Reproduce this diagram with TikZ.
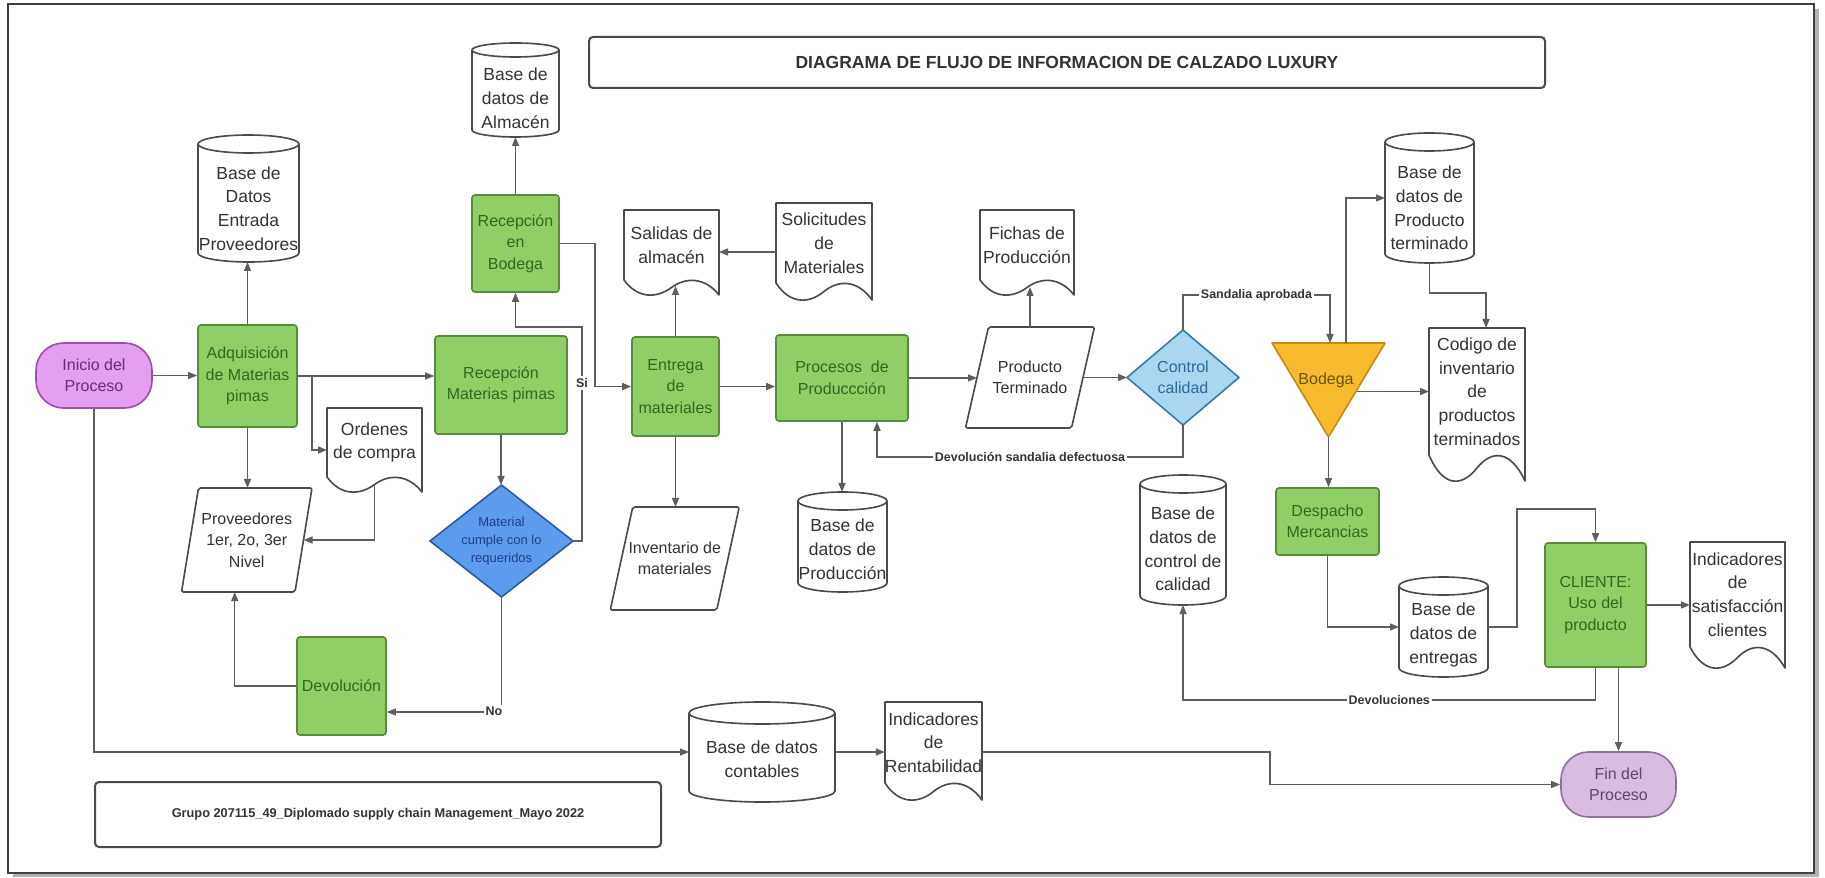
\documentclass[tikz,border=0pt]{standalone}
\usepackage{fontspec}
\setmainfont{Liberation Sans}
\usetikzlibrary{arrows.meta,calc}

\definecolor{ln}{HTML}{5E5E5E}
\definecolor{bd}{HTML}{4A4A4A}
\definecolor{txt}{HTML}{333333}
\definecolor{grf}{HTML}{90CF66}
\definecolor{grb}{HTML}{5A8A3C}
\definecolor{grt}{HTML}{2E6B1F}
\definecolor{inif}{HTML}{E3A0F0}
\definecolor{inib}{HTML}{9A4FAE}
\definecolor{init}{HTML}{6B2B7D}
\definecolor{finf}{HTML}{D9BDE0}
\definecolor{finb}{HTML}{8E7396}
\definecolor{fint}{HTML}{5E4766}
\definecolor{matf}{HTML}{5D9CEC}
\definecolor{matb}{HTML}{2C5C9C}
\definecolor{matt}{HTML}{1F3F88}
\definecolor{ccf}{HTML}{A9D7F2}
\definecolor{ccb}{HTML}{3D7AA8}
\definecolor{cct}{HTML}{2E6A9C}
\definecolor{bodf}{HTML}{F8BA2E}
\definecolor{bodb}{HTML}{C68C12}
\definecolor{bodtx}{HTML}{6B5200}

\tikzset{
 sz/.style 2 args={minimum width={(#1)*0.4pt}, minimum height={(#2)*0.4pt}},
 ghost/.style={rectangle, draw=none, inner sep=0pt, outer sep=0pt},
 outl/.style={draw=bd, line width=0.65pt, line join=round},
 conn/.style={draw=ln, line width=0.55pt, -{Triangle[length=3.6pt,width=2.8pt]}},
 tbig/.style={font=\fontsize{7}{9.5}\selectfont, text=txt, align=center},
 tsm/.style={font=\fontsize{6.4}{8.6}\selectfont, align=center},
 procbox/.style={rectangle, rounded corners=1.2pt, draw=grb, fill=grf, line width=0.65pt, text=grt, tsm, inner sep=0pt},
 term/.style={rectangle, rounded corners=11pt, line width=0.65pt, tsm, inner sep=0pt},
 lbl/.style={font=\bfseries\fontsize{5}{6}\selectfont, text=txt, fill=white, inner sep=0.8pt},
}

% cylinder: name, cx, cy, w, h, ry, text offset, text
\newcommand\cylshape[8]{%
 \pgfmathsetmacro\cxl{#2-#4/2}\pgfmathsetmacro\cxr{#2+#4/2}%
 \pgfmathsetmacro\cyt{#3-#5/2+#6}\pgfmathsetmacro\cyb{#3+#5/2-#6}%
 \pgfmathsetmacro\crx{#4/2}%
 \path[outl,fill=white] (\cxl,\cyt) -- (\cxl,\cyb) arc[start angle=180,end angle=0,x radius=\crx,y radius=#6] -- (\cxr,\cyt) arc[start angle=0,end angle=-180,x radius=\crx,y radius=#6] -- cycle;
 \path[outl] (\cxl,\cyt) arc[start angle=180,end angle=0,x radius=\crx,y radius=#6];
 \node[ghost,sz={#4}{#5}] (#1) at (#2,#3) {};
 \node[tbig] (#1t) at (#2,{#3+#7}) {#8};
}

% document: name, x0, ytop, w, h, d, text
\newcommand\docshape[7]{%
 \pgfmathsetmacro\dxa{#2}\pgfmathsetmacro\dxb{#2+#4}%
 \pgfmathsetmacro\dyt{#3}\pgfmathsetmacro\dyb{#3+#5-#6}%
 \path[outl,fill=white] (\dxa,\dyt) -- (\dxb,\dyt) -- (\dxb,{\dyb+#6})
   .. controls ({#2+0.85*#4},{\dyb-0.2*#6}) and ({#2+0.65*#4},{\dyb-0.2*#6}) .. ({#2+0.5*#4},{\dyb+0.5*#6})
   .. controls ({#2+0.35*#4},{\dyb+1.2*#6}) and ({#2+0.15*#4},{\dyb+1.3*#6}) .. (\dxa,\dyb) -- cycle;
 \node[ghost,tbig,sz={#4}{#5-#6}] (#1) at ({#2+#4/2},{#3+(#5-#6)/2}) {#7};
}

% parallelogram: name, cx, cy, w, h, slant, text
\newcommand\parashape[7]{%
 \path[outl,fill=white,rounded corners=0.8pt] ({#2-#4/2+#6/2},{#3-#5/2}) -- ({#2+#4/2+#6/2},{#3-#5/2}) -- ({#2+#4/2-#6/2},{#3+#5/2}) -- ({#2-#4/2-#6/2},{#3+#5/2}) -- cycle;
 \node[ghost,tsm,text=txt,sz={#4}{#5}] (#1) at (#2,#3) {#7};
}

\begin{document}
\begin{tikzpicture}[x=0.4pt,y=-0.4pt]
\useasboundingbox (0,0) rectangle (1825,878);
% frame
\fill[black!30] (13,9) rectangle (1819,877);
\draw[draw=black!75, line width=0.6pt, fill=white] (8,4) rectangle (1814,873);

% title and footer
\node[rectangle, rounded corners=1.6pt, draw=bd, line width=0.8pt, sz={956}{51}, font=\bfseries\fontsize{7}{8}\selectfont, text=txt] (title) at (1067,62.5) {DIAGRAMA DE FLUJO DE INFORMACION DE CALZADO LUXURY};
\node[rectangle, rounded corners=1.6pt, draw=bd, line width=0.8pt, sz={566}{65}, font=\bfseries\fontsize{5.1}{6}\selectfont, text=txt] (foot) at (378,814.5) {Grupo 207115\_49\_Diplomado supply chain Management\_Mayo 2022};

% terminals
\node[term, sz={116}{65}, fill=inif, draw=inib, text=init] (ini) at (94,375.5) {Inicio del\\Proceso};
\node[term, sz={115}{65}, fill=finf, draw=finb, text=fint] (fin) at (1618.5,784.5) {Fin del\\Proceso};

% process boxes
\node[procbox, sz={99}{102}] (adq) at (247.5,376) {Adquisición\\de Materias\\pimas};
\node[procbox, sz={87}{97}] (recb) at (515.5,243.5) {Recepción\\en\\Bodega};
\node[procbox, sz={132}{98}] (recm) at (501,385) {Recepción\\Materias pimas};
\node[procbox, sz={89}{98}] (dev) at (341.5,686) {Devolución};
\node[procbox, sz={87}{99}] (ent) at (675.5,386.5) {Entrega\\de\\materiales};
\node[procbox, sz={132}{86}] (proc) at (842,378) {Procesos~ de\\Produccción};
\node[procbox, sz={103}{67}] (desp) at (1327.5,521.5) {Despacho\\Mercancias};
\node[procbox, sz={101}{124}] (cli) at (1595.5,605) {CLIENTE:\\Uso del\\producto};

% databases
\cylshape{dbent}{248.5}{198.5}{101}{127}{9}{10}{Base de\\Datos\\Entrada\\Proveedores}
\cylshape{dbalm}{515.5}{90}{87}{94}{7}{8}{Base de\\datos de\\Almacén}
\cylshape{dbprod}{842.5}{542}{89}{100}{9}{7}{Base de\\datos de\\Producción}
\cylshape{dbcc}{1183}{540}{86}{130}{9}{9}{Base de\\datos de\\control de\\calidad}
\cylshape{dbpt}{1429.5}{198}{89}{130}{9}{10}{Base de\\datos de\\Producto\\terminado}
\cylshape{dbentr}{1443.5}{627}{89}{100}{9}{8}{Base de\\datos de\\entregas}
\cylshape{dbcont}{762}{752}{146}{100}{11}{7}{Base de datos\\contables}

% documents
\docshape{sal}{624}{210}{95}{85}{15}{Salidas de\\almacén}
\docshape{sol}{776}{203}{96}{97}{17}{Solicitudes\\de\\Materiales}
\docshape{fich}{980}{210}{94}{85}{15}{Fichas de\\Producción}
\docshape{ord}{327}{408}{95}{84}{15}{Ordenes\\de compra}
\docshape{cod}{1429}{328}{96}{153}{26}{Codigo de\\inventario\\de\\productos\\terminados}
\docshape{indr}{885}{702}{97}{98}{17}{Indicadores\\de\\Rentabilidad}
\docshape{inds}{1690}{542}{95}{126}{21}{Indicadores\\de\\satisfacción\\clientes}

% parallelograms
\parashape{prov}{246.75}{540}{113.5}{104}{17}{Proveedores\\1er, 2o, 3er\\Nivel}
\parashape{inv}{674.75}{558.5}{106.5}{103}{22.5}{Inventario de\\materiales}
\parashape{prodt}{1030}{377.5}{106}{101}{23}{Producto\\Terminado}

% decisions
\path[draw=matb, fill=matf, line width=0.65pt, line join=round] (430,541) -- (501.5,485) -- (573,541) -- (501.5,597) -- cycle;
\node[ghost, sz={143}{112}, text=matt, font=\fontsize{5.2}{7.2}\selectfont, align=center] (mat) at (501.5,541) {Material\\cumple con lo\\requeridos};
\path[draw=ccb, fill=ccf, line width=0.65pt, line join=round] (1127,377.5) -- (1183,330) -- (1239,377.5) -- (1183,425) -- cycle;
\node[ghost, sz={112}{95}, text=cct, tsm] (cc) at (1183,377.5) {Control\\calidad};

% merge triangle
\path[draw=bodb, fill=bodf, line width=0.65pt, line join=round] (1272,343) -- (1385,343) -- (1328.5,437) -- cycle;
\node[ghost, sz={113}{94}] (bod) at (1328.5,390) {};
\node[tsm, text=bodtx, inner sep=0pt] (bodl) at (1326,380) {Bodega};

% helper coordinates
\coordinate (br) at (312,376);
\coordinate (ordb) at ($(ord.south)+(0,7)$);
\coordinate (si) at (582,327);
\coordinate (rb) at (595,243.5);
\coordinate (ys) at (0,252);
\coordinate (dv) at (877,457);
\coordinate (sa) at (1330,295);
\coordinate (bodtop) at (1346,343);
\coordinate (pt) at (1486,293);
\coordinate (bodr) at (1357,391.5);
\coordinate (e1) at (1517,509);
\coordinate (dv2) at (1183,700);
\coordinate (r1) at (1270,752);

% connectors
\draw[conn] (ini.east) -- (ini.east -| adq.west);
\draw[conn] (adq.north) -- (adq.north |- dbent.south);
\draw[conn] (adq.south) -- (adq.south |- prov.north);
\draw[conn] (adq.east) -- (adq.east -| recm.west);
\draw[conn] (br) |- ([yshift=-3pt]ord.west);
\draw[conn] (ordb) |- (prov.east);
\draw[conn] (recm.south) -- (recm.south |- mat.north);
\draw[conn] (mat.east) -| (si) -| (recb.south);
\node[lbl] (silbl) at (582,383) {Si};
\draw[conn] (recb.east) -- (rb) |- (ent.west);
\draw[conn] (recb.north) -- (dbalm.south);
\draw[conn] (mat.south) |- ([yshift=-10.4pt]dev.east);
\node[lbl] (nolbl) at (494,711) {No};
\draw[conn] (dev.west) -| ([xshift=-4.8pt]prov.south);
\draw[conn] (ent.north) -- ($(ent.north |- sal.south)+(0,6)$);
\draw[conn] (sol.west |- ys) -- (sal.east |- ys);
\draw[conn] (ent.east) -- (ent.east -| proc.west);
\draw[conn] (ent.south) -- (ent.south |- inv.north);
\draw[conn] (proc.east) -- (proc.east -| prodt.west);
\draw[conn] (prodt.north) -- ($(prodt.north |- fich.south)+(0,7)$);
\draw[conn] (prodt.east) -- (prodt.east -| cc.west);
\draw[conn] (cc.south) |- node[lbl,pos=0.75]{Devolución sandalia defectuosa} (dv) -- (dv |- proc.south);
\draw[conn] (proc.south) -- (proc.south |- dbprod.north);
\draw[conn] (cc.north) |- node[lbl,pos=0.75]{Sandalia aprobada} (sa) -- (sa |- bod.north);
\draw[conn] (bodtop) |- (dbpt.west);
\draw[conn] (dbpt.south) |- (pt) -- (pt |- cod.north);
\draw[conn] (bodr) -- (bodr -| cod.west);
\draw[conn] (bod.south) -- (bod.south |- desp.north);
\draw[conn] (desp.south) |- (dbentr.west);
\draw[conn] (dbentr.east) -| (e1) -| (cli.north);
\draw[conn] (cli.east) -- (cli.east -| inds.west);
\draw[conn] (cli.south) |- node[lbl,pos=0.75]{Devoluciones} (dv2) -- (dbcc.south);
\draw[conn] (cli.south -| fin.north) -- (fin.north);
\draw[conn] (ini.south) |- (dbcont.west);
\draw[conn] (dbcont.east) -- (dbcont.east -| indr.west);
\draw[conn] (indr.east |- dbcont.east) -- (r1) |- (fin.west);
\end{tikzpicture}
\end{document}
